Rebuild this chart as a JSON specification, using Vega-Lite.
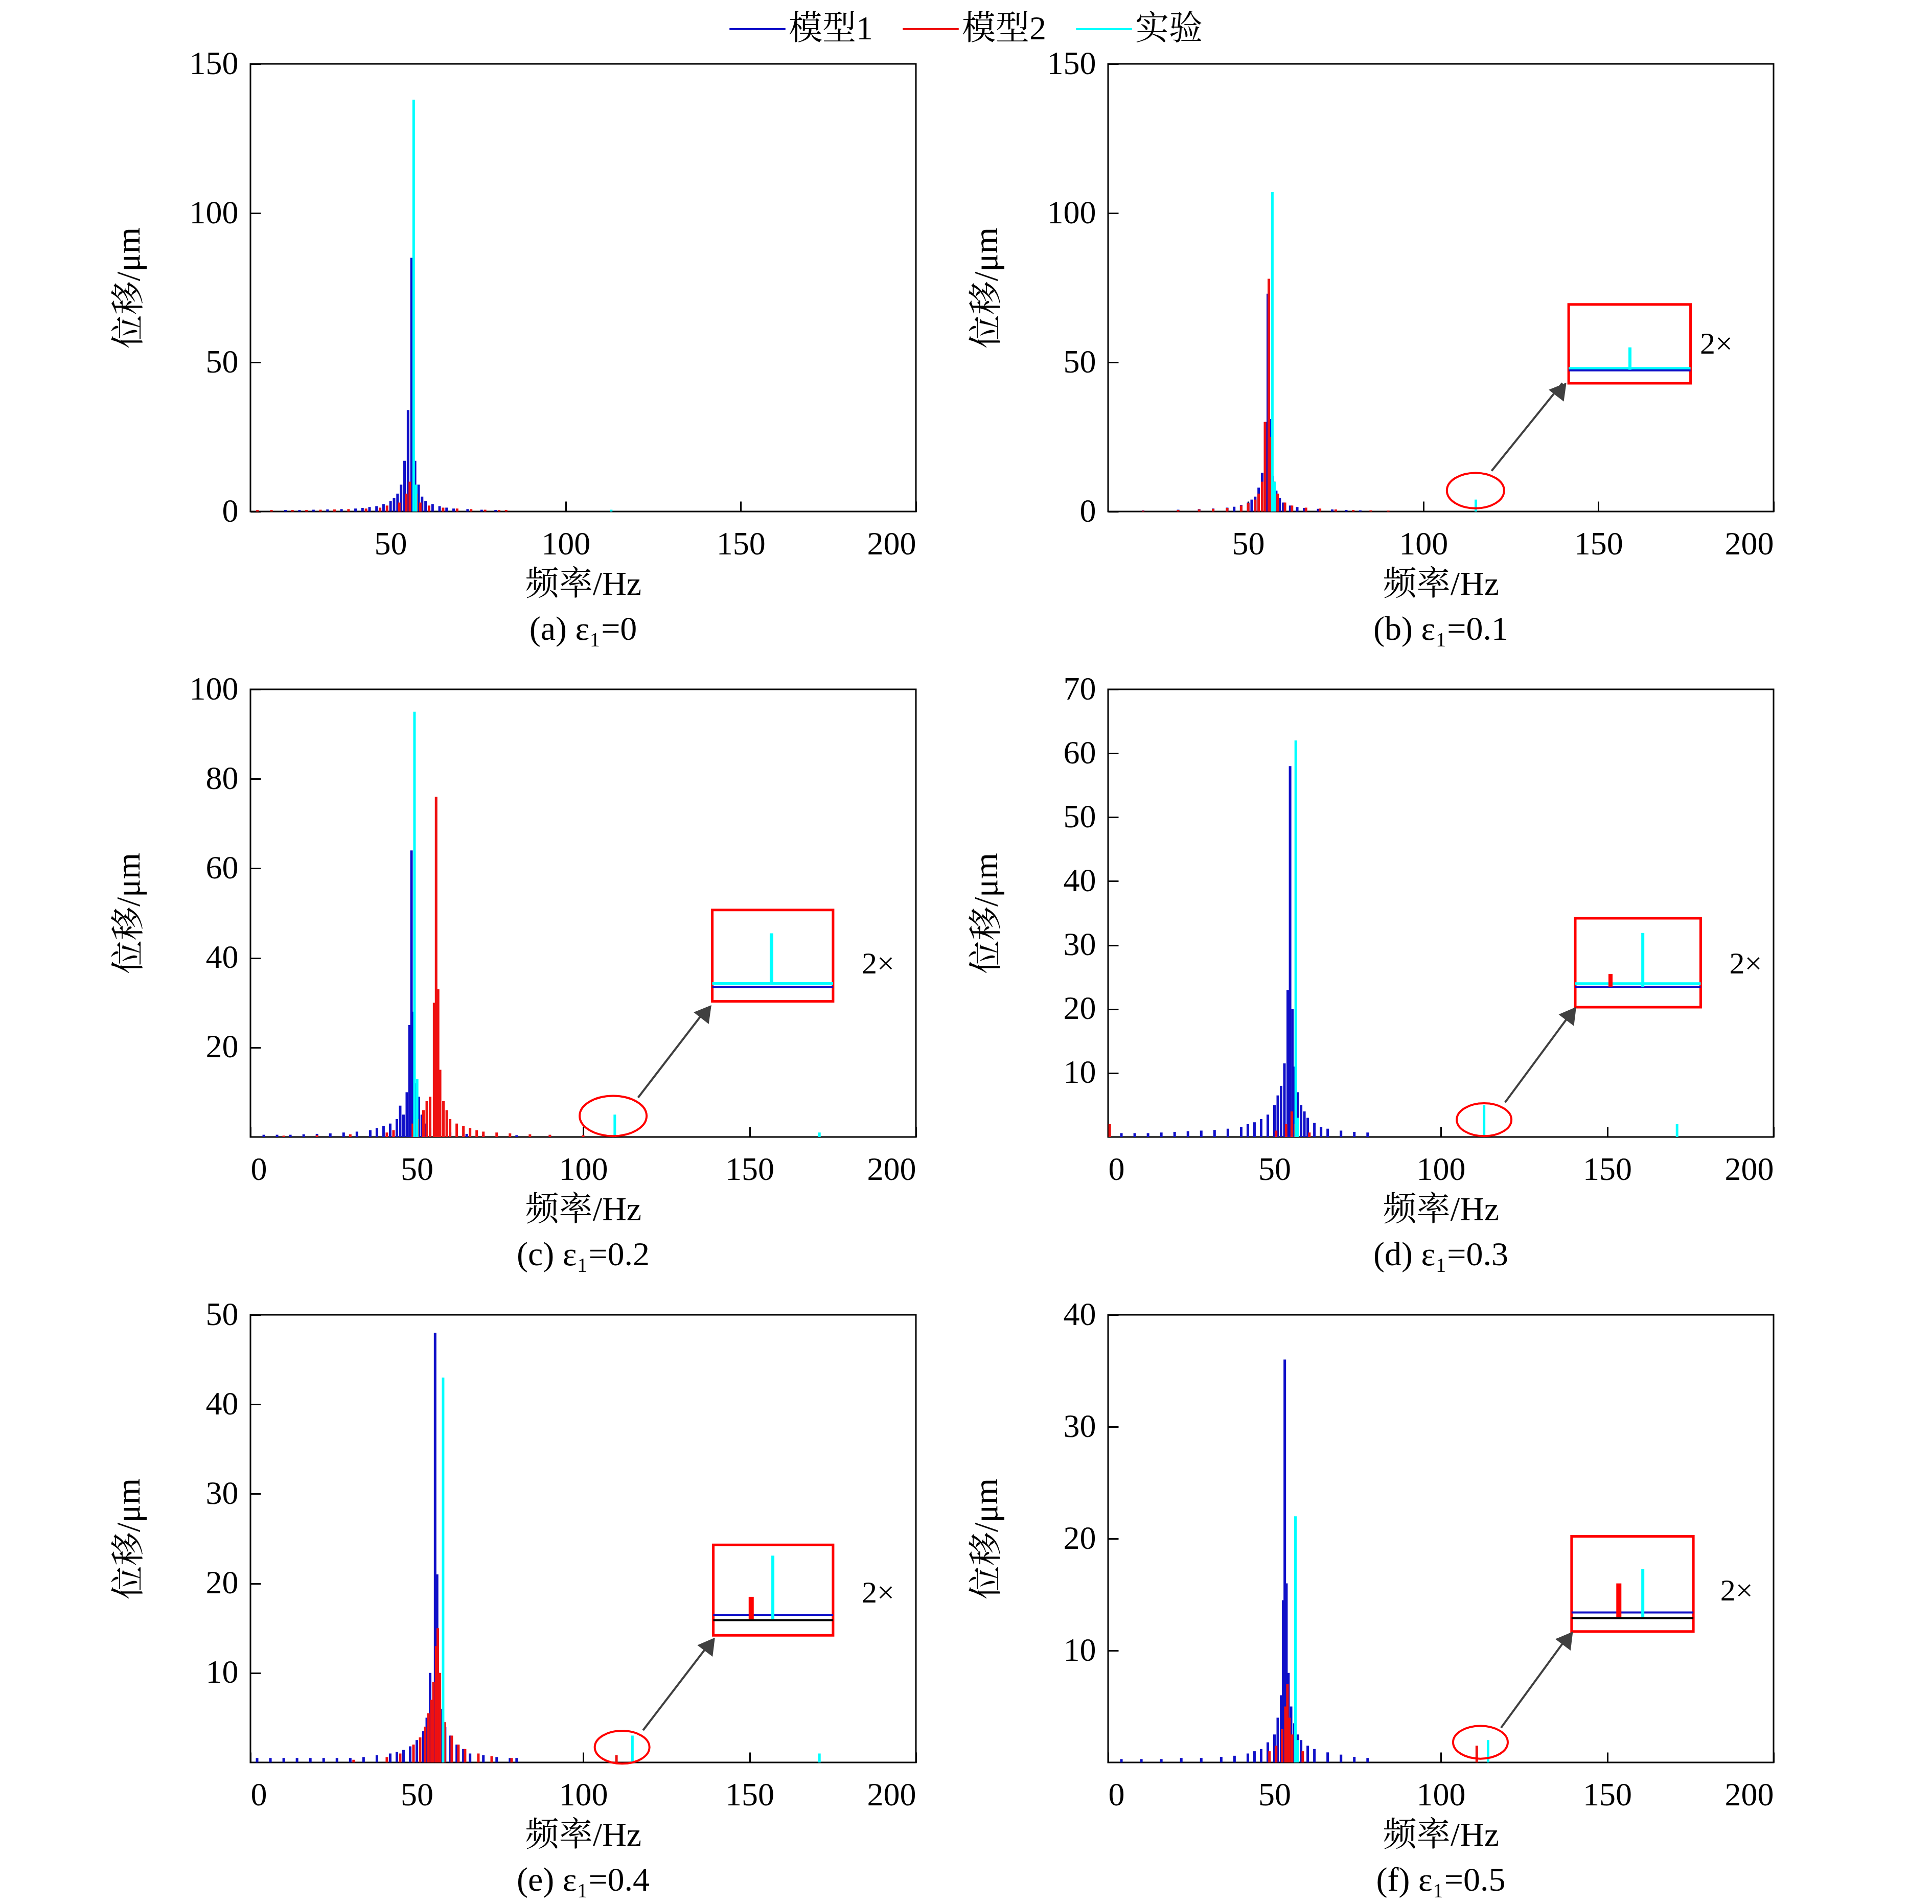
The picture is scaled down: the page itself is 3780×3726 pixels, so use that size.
{
"$schema":"https://vega.github.io/schema/vega-lite/v6.json",
"padding":{"left":217,"top":0,"right":60,"bottom":0},
"background":"white",
"config":{
 "view":{"stroke":"black","strokeWidth":3},
 "axis":{"grid":false,"domain":false,"tickColor":"black","tickSize":-20,"tickWidth":3,"labelFont":"Liberation Serif","labelFontSize":64,"labelColor":"black","titleFont":"Liberation Serif, Noto Serif CJK SC, Noto Sans CJK SC","titleFontSize":66,"titleFontWeight":"normal","titleColor":"black"},
 "axisX":{"titlePadding":14,"labelPadding":52},
 "axisY":{"titlePadding":24,"labelPadding":44,"minExtent":180,"maxExtent":180},
 "title":{"font":"Liberation Serif, Noto Serif CJK SC","fontSize":66,"fontWeight":"normal","color":"black","offset":24},
 "legend":{"orient":"none","legendX":935,"legendY":-125,"direction":"horizontal","symbolType":"stroke","symbolSize":12000,"symbolStrokeWidth":4,"labelFont":"Liberation Serif, Noto Serif CJK SC","labelFontSize":66,"labelLimit":0,"labelColor":"black","columnPadding":50}
},
"datasets":{
"bars":[
{"p":"a","s":"模型1","f":20,"v":0.5},{"p":"a","s":"模型1","f":24,"v":0.5},{"p":"a","s":"模型1","f":28,"v":0.6},{"p":"a","s":"模型1","f":32,"v":0.7},{"p":"a","s":"模型1","f":36,"v":0.8},{"p":"a","s":"模型1","f":40,"v":1},{"p":"a","s":"模型1","f":42,"v":1.2},{"p":"a","s":"模型1","f":44,"v":1.5},{"p":"a","s":"模型1","f":46,"v":1.8},{"p":"a","s":"模型1","f":48,"v":2.5},{"p":"a","s":"模型1","f":50,"v":3.5},{"p":"a","s":"模型1","f":51,"v":4.5},{"p":"a","s":"模型1","f":52,"v":6},{"p":"a","s":"模型1","f":53,"v":9},{"p":"a","s":"模型1","f":54,"v":17},{"p":"a","s":"模型1","f":55,"v":34},{"p":"a","s":"模型1","f":56,"v":85},{"p":"a","s":"模型1","f":57,"v":17},{"p":"a","s":"模型1","f":58,"v":9},{"p":"a","s":"模型1","f":59,"v":5},{"p":"a","s":"模型1","f":60,"v":3.5},{"p":"a","s":"模型1","f":62,"v":2.5},{"p":"a","s":"模型1","f":64,"v":1.8},{"p":"a","s":"模型1","f":66,"v":1.3},{"p":"a","s":"模型1","f":68,"v":1},{"p":"a","s":"模型1","f":72,"v":0.8},{"p":"a","s":"模型1","f":76,"v":0.6},{"p":"a","s":"模型1","f":80,"v":0.5},
{"p":"a","s":"模型2","f":12,"v":0.5},{"p":"a","s":"模型2","f":16,"v":0.5},{"p":"a","s":"模型2","f":22,"v":0.5},{"p":"a","s":"模型2","f":26,"v":0.5},{"p":"a","s":"模型2","f":30,"v":0.6},{"p":"a","s":"模型2","f":34,"v":0.7},{"p":"a","s":"模型2","f":38,"v":0.8},{"p":"a","s":"模型2","f":43,"v":1},{"p":"a","s":"模型2","f":47,"v":1.3},{"p":"a","s":"模型2","f":49,"v":2},{"p":"a","s":"模型2","f":52.5,"v":3},{"p":"a","s":"模型2","f":54.5,"v":6},{"p":"a","s":"模型2","f":55.5,"v":10},{"p":"a","s":"模型2","f":57.5,"v":6},{"p":"a","s":"模型2","f":58.5,"v":3},{"p":"a","s":"模型2","f":61,"v":2},{"p":"a","s":"模型2","f":65,"v":1.3},{"p":"a","s":"模型2","f":69,"v":1},{"p":"a","s":"模型2","f":73,"v":0.8},{"p":"a","s":"模型2","f":77,"v":0.6},{"p":"a","s":"模型2","f":81,"v":0.5},{"p":"a","s":"模型2","f":83,"v":0.5},
{"p":"a","s":"实验","f":56.6,"v":138},{"p":"a","s":"实验","f":57.3,"v":9},{"p":"a","s":"实验","f":113,"v":0.6},
{"p":"b","s":"模型1","f":20,"v":0.4},{"p":"b","s":"模型1","f":30,"v":0.6},{"p":"b","s":"模型1","f":36,"v":0.8},{"p":"b","s":"模型1","f":40,"v":1},{"p":"b","s":"模型1","f":44,"v":1.3},{"p":"b","s":"模型1","f":46,"v":1.6},{"p":"b","s":"模型1","f":48,"v":2.2},{"p":"b","s":"模型1","f":50,"v":3},{"p":"b","s":"模型1","f":51,"v":4},{"p":"b","s":"模型1","f":52,"v":5},{"p":"b","s":"模型1","f":53,"v":8},{"p":"b","s":"模型1","f":54,"v":13},{"p":"b","s":"模型1","f":55,"v":30},{"p":"b","s":"模型1","f":55.6,"v":73},{"p":"b","s":"模型1","f":56.2,"v":31},{"p":"b","s":"模型1","f":57,"v":12},{"p":"b","s":"模型1","f":58,"v":7},{"p":"b","s":"模型1","f":59,"v":4.5},{"p":"b","s":"模型1","f":60,"v":3},{"p":"b","s":"模型1","f":62,"v":2},{"p":"b","s":"模型1","f":64,"v":1.5},{"p":"b","s":"模型1","f":66,"v":1.2},{"p":"b","s":"模型1","f":70,"v":0.9},{"p":"b","s":"模型1","f":74,"v":0.7},{"p":"b","s":"模型1","f":78,"v":0.5},{"p":"b","s":"模型1","f":82,"v":0.4},
{"p":"b","s":"模型2","f":20,"v":0.3},{"p":"b","s":"模型2","f":30,"v":0.5},{"p":"b","s":"模型2","f":36,"v":0.7},{"p":"b","s":"模型2","f":40,"v":0.9},{"p":"b","s":"模型2","f":44,"v":1.2},{"p":"b","s":"模型2","f":48,"v":2},{"p":"b","s":"模型2","f":50,"v":2.8},{"p":"b","s":"模型2","f":52,"v":4},{"p":"b","s":"模型2","f":53,"v":6},{"p":"b","s":"模型2","f":54,"v":10},{"p":"b","s":"模型2","f":54.8,"v":30},{"p":"b","s":"模型2","f":55.9,"v":78},{"p":"b","s":"模型2","f":56.6,"v":25},{"p":"b","s":"模型2","f":57.4,"v":10},{"p":"b","s":"模型2","f":58.4,"v":6},{"p":"b","s":"模型2","f":60.5,"v":3},{"p":"b","s":"模型2","f":62.5,"v":2},{"p":"b","s":"模型2","f":66.5,"v":1.3},{"p":"b","s":"模型2","f":70.5,"v":1},{"p":"b","s":"模型2","f":75,"v":0.7},{"p":"b","s":"模型2","f":80,"v":0.5},{"p":"b","s":"模型2","f":85,"v":0.4},{"p":"b","s":"模型2","f":90,"v":0.3},
{"p":"b","s":"实验","f":56.9,"v":107},{"p":"b","s":"实验","f":57.5,"v":10},{"p":"b","s":"实验","f":115,"v":4},
{"p":"c","s":"模型1","f":4,"v":0.5},{"p":"c","s":"模型1","f":8,"v":0.5},{"p":"c","s":"模型1","f":12,"v":0.5},{"p":"c","s":"模型1","f":16,"v":0.6},{"p":"c","s":"模型1","f":20,"v":0.7},{"p":"c","s":"模型1","f":24,"v":0.8},{"p":"c","s":"模型1","f":28,"v":1},{"p":"c","s":"模型1","f":32,"v":1.2},{"p":"c","s":"模型1","f":36,"v":1.5},{"p":"c","s":"模型1","f":38,"v":2},{"p":"c","s":"模型1","f":40,"v":2.5},{"p":"c","s":"模型1","f":42,"v":3},{"p":"c","s":"模型1","f":44,"v":4},{"p":"c","s":"模型1","f":45,"v":7},{"p":"c","s":"模型1","f":46,"v":5},{"p":"c","s":"模型1","f":47,"v":10},{"p":"c","s":"模型1","f":47.8,"v":25},{"p":"c","s":"模型1","f":48.4,"v":64},{"p":"c","s":"模型1","f":49,"v":28},{"p":"c","s":"模型1","f":49.8,"v":12},{"p":"c","s":"模型1","f":50.6,"v":9},{"p":"c","s":"模型1","f":51.5,"v":5},{"p":"c","s":"模型1","f":52.5,"v":3},{"p":"c","s":"模型1","f":54,"v":2},{"p":"c","s":"模型1","f":56,"v":1.5},{"p":"c","s":"模型1","f":60,"v":1},{"p":"c","s":"模型1","f":65,"v":0.7},{"p":"c","s":"模型1","f":70,"v":0.5},{"p":"c","s":"模型1","f":80,"v":0.4},{"p":"c","s":"模型1","f":90,"v":0.3},
{"p":"c","s":"模型2","f":10,"v":0.3},{"p":"c","s":"模型2","f":20,"v":0.4},{"p":"c","s":"模型2","f":30,"v":0.6},{"p":"c","s":"模型2","f":41,"v":1},{"p":"c","s":"模型2","f":43,"v":1.5},{"p":"c","s":"模型2","f":48.8,"v":3},{"p":"c","s":"模型2","f":50.3,"v":4},{"p":"c","s":"模型2","f":52,"v":6},{"p":"c","s":"模型2","f":53,"v":8},{"p":"c","s":"模型2","f":54,"v":9},{"p":"c","s":"模型2","f":55.2,"v":30},{"p":"c","s":"模型2","f":55.8,"v":76},{"p":"c","s":"模型2","f":56.4,"v":33},{"p":"c","s":"模型2","f":57,"v":15},{"p":"c","s":"模型2","f":58,"v":8},{"p":"c","s":"模型2","f":59,"v":6},{"p":"c","s":"模型2","f":60,"v":4},{"p":"c","s":"模型2","f":62,"v":3},{"p":"c","s":"模型2","f":64,"v":2.5},{"p":"c","s":"模型2","f":66,"v":2},{"p":"c","s":"模型2","f":68,"v":1.5},{"p":"c","s":"模型2","f":70,"v":1.2},{"p":"c","s":"模型2","f":74,"v":1},{"p":"c","s":"模型2","f":78,"v":0.8},{"p":"c","s":"模型2","f":84,"v":0.6},{"p":"c","s":"模型2","f":90,"v":0.5},{"p":"c","s":"模型2","f":100,"v":0.4},
{"p":"c","s":"实验","f":49.3,"v":95},{"p":"c","s":"实验","f":50.1,"v":13},{"p":"c","s":"实验","f":109.5,"v":5},{"p":"c","s":"实验","f":171,"v":1},
{"p":"d","s":"模型1","f":4,"v":0.6},{"p":"d","s":"模型1","f":8,"v":0.6},{"p":"d","s":"模型1","f":12,"v":0.6},{"p":"d","s":"模型1","f":16,"v":0.7},{"p":"d","s":"模型1","f":20,"v":0.8},{"p":"d","s":"模型1","f":24,"v":0.9},{"p":"d","s":"模型1","f":28,"v":1},{"p":"d","s":"模型1","f":32,"v":1.1},{"p":"d","s":"模型1","f":36,"v":1.3},{"p":"d","s":"模型1","f":40,"v":1.6},{"p":"d","s":"模型1","f":42,"v":2},{"p":"d","s":"模型1","f":44,"v":2.3},{"p":"d","s":"模型1","f":46,"v":2.8},{"p":"d","s":"模型1","f":48,"v":3.5},{"p":"d","s":"模型1","f":50,"v":5},{"p":"d","s":"模型1","f":51,"v":6.5},{"p":"d","s":"模型1","f":52,"v":8},{"p":"d","s":"模型1","f":53,"v":11.5},{"p":"d","s":"模型1","f":54,"v":23},{"p":"d","s":"模型1","f":54.7,"v":58},{"p":"d","s":"模型1","f":55.4,"v":20},{"p":"d","s":"模型1","f":56,"v":11},{"p":"d","s":"模型1","f":57,"v":7},{"p":"d","s":"模型1","f":58,"v":5},{"p":"d","s":"模型1","f":59,"v":4},{"p":"d","s":"模型1","f":60,"v":3},{"p":"d","s":"模型1","f":62,"v":2.2},{"p":"d","s":"模型1","f":64,"v":1.6},{"p":"d","s":"模型1","f":66,"v":1.3},{"p":"d","s":"模型1","f":70,"v":1},{"p":"d","s":"模型1","f":74,"v":0.8},{"p":"d","s":"模型1","f":78,"v":0.7},
{"p":"d","s":"模型2","f":0.5,"v":2},{"p":"d","s":"模型2","f":50.5,"v":1},{"p":"d","s":"模型2","f":53.5,"v":2},{"p":"d","s":"模型2","f":55.2,"v":4},{"p":"d","s":"模型2","f":56.2,"v":2},{"p":"d","s":"模型2","f":60.5,"v":0.7},
{"p":"d","s":"实验","f":56.4,"v":62},{"p":"d","s":"实验","f":57,"v":3},{"p":"d","s":"实验","f":113,"v":5},{"p":"d","s":"实验","f":171,"v":2},
{"p":"e","s":"模型1","f":2,"v":0.5},{"p":"e","s":"模型1","f":6,"v":0.5},{"p":"e","s":"模型1","f":10,"v":0.5},{"p":"e","s":"模型1","f":14,"v":0.5},{"p":"e","s":"模型1","f":18,"v":0.5},{"p":"e","s":"模型1","f":22,"v":0.5},{"p":"e","s":"模型1","f":26,"v":0.5},{"p":"e","s":"模型1","f":30,"v":0.5},{"p":"e","s":"模型1","f":34,"v":0.6},{"p":"e","s":"模型1","f":38,"v":0.8},{"p":"e","s":"模型1","f":42,"v":1},{"p":"e","s":"模型1","f":44,"v":1.2},{"p":"e","s":"模型1","f":46,"v":1.4},{"p":"e","s":"模型1","f":48,"v":1.8},{"p":"e","s":"模型1","f":50,"v":2.5},{"p":"e","s":"模型1","f":52,"v":3.5},{"p":"e","s":"模型1","f":53,"v":5},{"p":"e","s":"模型1","f":54,"v":10},{"p":"e","s":"模型1","f":55.5,"v":48},{"p":"e","s":"模型1","f":56.1,"v":21},{"p":"e","s":"模型1","f":56.6,"v":10},{"p":"e","s":"模型1","f":57.5,"v":6},{"p":"e","s":"模型1","f":58.5,"v":4},{"p":"e","s":"模型1","f":60,"v":3},{"p":"e","s":"模型1","f":62,"v":2},{"p":"e","s":"模型1","f":64,"v":1.5},{"p":"e","s":"模型1","f":66,"v":1},{"p":"e","s":"模型1","f":70,"v":0.8},{"p":"e","s":"模型1","f":74,"v":0.6},{"p":"e","s":"模型1","f":78,"v":0.5},{"p":"e","s":"模型1","f":80,"v":0.5},
{"p":"e","s":"模型2","f":31,"v":0.3},{"p":"e","s":"模型2","f":41,"v":0.6},{"p":"e","s":"模型2","f":45,"v":1},{"p":"e","s":"模型2","f":49,"v":2},{"p":"e","s":"模型2","f":51,"v":2.8},{"p":"e","s":"模型2","f":52.5,"v":4},{"p":"e","s":"模型2","f":53.5,"v":5.5},{"p":"e","s":"模型2","f":54.4,"v":7},{"p":"e","s":"模型2","f":55,"v":9},{"p":"e","s":"模型2","f":55.8,"v":13},{"p":"e","s":"模型2","f":56.3,"v":15},{"p":"e","s":"模型2","f":56.9,"v":10},{"p":"e","s":"模型2","f":57.8,"v":6},{"p":"e","s":"模型2","f":58.4,"v":4.5},{"p":"e","s":"模型2","f":60.5,"v":3},{"p":"e","s":"模型2","f":62.5,"v":2},{"p":"e","s":"模型2","f":64.5,"v":1.5},{"p":"e","s":"模型2","f":68.5,"v":1},{"p":"e","s":"模型2","f":72.5,"v":0.7},{"p":"e","s":"模型2","f":78.5,"v":0.5},{"p":"e","s":"模型2","f":110,"v":0.8},
{"p":"e","s":"实验","f":57.9,"v":43},{"p":"e","s":"实验","f":114.8,"v":3},{"p":"e","s":"实验","f":171,"v":1},
{"p":"f","s":"模型1","f":4,"v":0.3},{"p":"f","s":"模型1","f":10,"v":0.3},{"p":"f","s":"模型1","f":16,"v":0.3},{"p":"f","s":"模型1","f":22,"v":0.4},{"p":"f","s":"模型1","f":28,"v":0.4},{"p":"f","s":"模型1","f":34,"v":0.5},{"p":"f","s":"模型1","f":38,"v":0.6},{"p":"f","s":"模型1","f":42,"v":0.8},{"p":"f","s":"模型1","f":44,"v":1},{"p":"f","s":"模型1","f":46,"v":1.2},{"p":"f","s":"模型1","f":48,"v":1.8},{"p":"f","s":"模型1","f":50,"v":2.5},{"p":"f","s":"模型1","f":51,"v":4},{"p":"f","s":"模型1","f":52,"v":6},{"p":"f","s":"模型1","f":52.6,"v":14.5},{"p":"f","s":"模型1","f":53.1,"v":36},{"p":"f","s":"模型1","f":53.6,"v":16},{"p":"f","s":"模型1","f":54.2,"v":8},{"p":"f","s":"模型1","f":55,"v":5},{"p":"f","s":"模型1","f":56,"v":3.5},{"p":"f","s":"模型1","f":57,"v":2.5},{"p":"f","s":"模型1","f":58,"v":2},{"p":"f","s":"模型1","f":60,"v":1.5},{"p":"f","s":"模型1","f":62,"v":1.2},{"p":"f","s":"模型1","f":66,"v":0.9},{"p":"f","s":"模型1","f":70,"v":0.7},{"p":"f","s":"模型1","f":74,"v":0.5},{"p":"f","s":"模型1","f":78,"v":0.4},
{"p":"f","s":"模型2","f":48.5,"v":1},{"p":"f","s":"模型2","f":50.5,"v":1.5},{"p":"f","s":"模型2","f":52.3,"v":3},{"p":"f","s":"模型2","f":53.3,"v":5},{"p":"f","s":"模型2","f":53.9,"v":7},{"p":"f","s":"模型2","f":54.5,"v":4},{"p":"f","s":"模型2","f":55.3,"v":2.5},{"p":"f","s":"模型2","f":56.5,"v":1.5},{"p":"f","s":"模型2","f":58.5,"v":1},{"p":"f","s":"模型2","f":110.8,"v":1.5},
{"p":"f","s":"实验","f":56.3,"v":22},{"p":"f","s":"实验","f":57,"v":2},{"p":"f","s":"实验","f":114.2,"v":2}
],
"ann":[
{"p":"b","k":"box","x":141.5,"x2":176.3,"y":43,"y2":69.4},
{"p":"b","k":"seg","x":141.5,"x2":176.3,"y":48,"y2":48,"c":"cyan","w":5},
{"p":"b","k":"seg","x":141.5,"x2":176.3,"y":47.3,"y2":47.3,"c":"#1010c8","w":4},
{"p":"b","k":"seg","x":159,"x2":159,"y":47.5,"y2":55,"c":"cyan","w":6},
{"p":"b","k":"seg","x":119.5,"x2":139.7,"y":13.6,"y2":43,"c":"#404040","w":4},
{"p":"b","k":"ell","x":114.9,"y":7,"z":12544},
{"p":"b","k":"head","x":139.4,"y":41},
{"p":"b","k":"txt","x":179,"y":56},
{"p":"c","k":"box","x":138.8,"x2":175.1,"y":30.3,"y2":50.7},
{"p":"c","k":"seg","x":138.8,"x2":175.1,"y":34.3,"y2":34.3,"c":"cyan","w":5},
{"p":"c","k":"seg","x":138.8,"x2":175.1,"y":33.5,"y2":33.5,"c":"#1010c8","w":4},
{"p":"c","k":"seg","x":156.6,"x2":156.6,"y":34,"y2":45.5,"c":"cyan","w":7},
{"p":"c","k":"seg","x":116.5,"x2":137.3,"y":8.8,"y2":28.9,"c":"#404040","w":4},
{"p":"c","k":"ell","x":109,"y":4.7,"z":17161},
{"p":"c","k":"head","x":137,"y":28},
{"p":"c","k":"txt","x":183.7,"y":38.6},
{"p":"d","k":"box","x":140.4,"x2":178.1,"y":20.3,"y2":34.2},
{"p":"d","k":"seg","x":140.4,"x2":178.1,"y":24,"y2":24,"c":"cyan","w":5},
{"p":"d","k":"seg","x":140.4,"x2":178.1,"y":23.5,"y2":23.5,"c":"#1010c8","w":4},
{"p":"d","k":"seg","x":151,"x2":151,"y":23.5,"y2":25.5,"c":"red","w":8},
{"p":"d","k":"seg","x":160.7,"x2":160.7,"y":23.5,"y2":31.9,"c":"cyan","w":6},
{"p":"d","k":"seg","x":119.3,"x2":139.6,"y":5.4,"y2":19.7,"c":"#404040","w":4},
{"p":"d","k":"ell","x":113,"y":2.7,"z":11449},
{"p":"d","k":"head","x":139.2,"y":19.3},
{"p":"d","k":"txt","x":186.7,"y":27},
{"p":"e","k":"box","x":139.1,"x2":175.1,"y":14.2,"y2":24.3},
{"p":"e","k":"seg","x":139.1,"x2":175.1,"y":15.9,"y2":15.9,"c":"black","w":4},
{"p":"e","k":"seg","x":139.1,"x2":175.1,"y":16.5,"y2":16.5,"c":"#1010c8","w":4},
{"p":"e","k":"seg","x":150.5,"x2":150.5,"y":16,"y2":18.5,"c":"red","w":10},
{"p":"e","k":"seg","x":157,"x2":157,"y":16,"y2":23.1,"c":"cyan","w":6},
{"p":"e","k":"seg","x":118,"x2":138.4,"y":3.6,"y2":13.5,"c":"#404040","w":4},
{"p":"e","k":"ell","x":111.7,"y":1.7,"z":11449},
{"p":"e","k":"head","x":138.1,"y":13.2},
{"p":"e","k":"txt","x":183.7,"y":18.9},
{"p":"f","k":"box","x":139.3,"x2":175.9,"y":11.7,"y2":20.2},
{"p":"f","k":"seg","x":139.3,"x2":175.9,"y":12.9,"y2":12.9,"c":"black","w":4},
{"p":"f","k":"seg","x":139.3,"x2":175.9,"y":13.4,"y2":13.4,"c":"#1010c8","w":4},
{"p":"f","k":"seg","x":153.5,"x2":153.5,"y":13,"y2":16,"c":"red","w":10},
{"p":"f","k":"seg","x":160.7,"x2":160.7,"y":13,"y2":17.3,"c":"cyan","w":6},
{"p":"f","k":"seg","x":118.1,"x2":138.5,"y":3.1,"y2":11.4,"c":"#404040","w":4},
{"p":"f","k":"ell","x":111.9,"y":1.8,"z":11449},
{"p":"f","k":"head","x":138.2,"y":11.1},
{"p":"f","k":"txt","x":184,"y":15.3}
]
},
"spacing":48,
"vconcat":[
{"spacing":100,"hconcat":[
{"width":1302,"height":876,"title":{"text":"(a) ε₁=0","orient":"bottom"},
"layer":[
{"data":{"name":"bars"},"transform":[{"filter":"datum.p=='a'"}],"mark":{"type":"rule","strokeWidth":5},
"encoding":{"x":{"field":"f","type":"quantitative","scale":{"domain":[10,200],"nice":false,"zero":false},"axis":{"values":[50,100,150,200],"title":"频率/Hz"}},
"y":{"field":"v","type":"quantitative","scale":{"domain":[0,150],"nice":false},"axis":{"values":[0,50,100,150],"title":"位移/μm"}},
"y2":{"datum":0},
"color":{"field":"s","type":"nominal","scale":{"domain":["模型1","模型2","实验"],"range":["#1010c8","#ee1111","#00ffff"]},"title":null}}}
]},
{"width":1302,"height":876,"title":{"text":"(b) ε₁=0.1","orient":"bottom"},
"layer":[
{"data":{"name":"bars"},"transform":[{"filter":"datum.p=='b'"}],"mark":{"type":"rule","strokeWidth":5},
"encoding":{"x":{"field":"f","type":"quantitative","scale":{"domain":[10,200],"nice":false,"zero":false},"axis":{"values":[50,100,150,200],"title":"频率/Hz"}},
"y":{"field":"v","type":"quantitative","scale":{"domain":[0,150],"nice":false},"axis":{"values":[0,50,100,150],"title":"位移/μm"}},
"y2":{"datum":0},
"color":{"field":"s","type":"nominal","title":null}}},
{"data":{"name":"ann"},"transform":[{"filter":"datum.p=='b' && datum.k=='box'"}],"mark":{"type":"rect","fill":"white","stroke":"red","strokeWidth":5},"encoding":{"x":{"field":"x","type":"quantitative"},"x2":{"field":"x2"},"y":{"field":"y","type":"quantitative"},"y2":{"field":"y2"}}},
{"data":{"name":"ann"},"transform":[{"filter":"datum.p=='b' && datum.k=='seg'"}],"mark":{"type":"rule"},"encoding":{"x":{"field":"x","type":"quantitative"},"x2":{"field":"x2"},"y":{"field":"y","type":"quantitative"},"y2":{"field":"y2"},"stroke":{"field":"c","type":"nominal","scale":null},"strokeWidth":{"field":"w","type":"quantitative","scale":null}}},
{"data":{"name":"ann"},"transform":[{"filter":"datum.p=='b' && datum.k=='ell'"}],"mark":{"type":"point","shape":"M-1,0A1,0.62,0,1,0,1,0A1,0.62,0,1,0,-1,0","filled":false,"stroke":"red","strokeWidth":4,"opacity":1},"encoding":{"x":{"field":"x","type":"quantitative"},"y":{"field":"y","type":"quantitative"},"size":{"field":"z","type":"quantitative","scale":null}}},
{"data":{"name":"ann"},"transform":[{"filter":"datum.p=='b' && datum.k=='head'"}],"mark":{"type":"point","shape":"triangle-up","filled":true,"color":"#404040","opacity":1,"size":1400,"angle":38},"encoding":{"x":{"field":"x","type":"quantitative"},"y":{"field":"y","type":"quantitative"}}},
{"data":{"name":"ann"},"transform":[{"filter":"datum.p=='b' && datum.k=='txt'"}],"mark":{"type":"text","text":"2×","align":"left","font":"Liberation Serif","fontSize":60,"color":"black"},"encoding":{"x":{"field":"x","type":"quantitative"},"y":{"field":"y","type":"quantitative"}}}
]}
]},
{"spacing":100,"hconcat":[
{"width":1302,"height":876,"title":{"text":"(c) ε₁=0.2","orient":"bottom"},
"layer":[
{"data":{"name":"bars"},"transform":[{"filter":"datum.p=='c'"}],"mark":{"type":"rule","strokeWidth":5},
"encoding":{"x":{"field":"f","type":"quantitative","scale":{"domain":[0,200],"nice":false},"axis":{"values":[0,50,100,150,200],"title":"频率/Hz"}},
"y":{"field":"v","type":"quantitative","scale":{"domain":[0,100],"nice":false},"axis":{"values":[20,40,60,80,100],"title":"位移/μm"}},
"y2":{"datum":0},
"color":{"field":"s","type":"nominal","title":null}}},
{"data":{"name":"ann"},"transform":[{"filter":"datum.p=='c' && datum.k=='box'"}],"mark":{"type":"rect","fill":"white","stroke":"red","strokeWidth":5},"encoding":{"x":{"field":"x","type":"quantitative"},"x2":{"field":"x2"},"y":{"field":"y","type":"quantitative"},"y2":{"field":"y2"}}},
{"data":{"name":"ann"},"transform":[{"filter":"datum.p=='c' && datum.k=='seg'"}],"mark":{"type":"rule"},"encoding":{"x":{"field":"x","type":"quantitative"},"x2":{"field":"x2"},"y":{"field":"y","type":"quantitative"},"y2":{"field":"y2"},"stroke":{"field":"c","type":"nominal","scale":null},"strokeWidth":{"field":"w","type":"quantitative","scale":null}}},
{"data":{"name":"ann"},"transform":[{"filter":"datum.p=='c' && datum.k=='ell'"}],"mark":{"type":"point","shape":"M-1,0A1,0.6,0,1,0,1,0A1,0.6,0,1,0,-1,0","filled":false,"stroke":"red","strokeWidth":4,"opacity":1},"encoding":{"x":{"field":"x","type":"quantitative"},"y":{"field":"y","type":"quantitative"},"size":{"field":"z","type":"quantitative","scale":null}}},
{"data":{"name":"ann"},"transform":[{"filter":"datum.p=='c' && datum.k=='head'"}],"mark":{"type":"point","shape":"triangle-up","filled":true,"color":"#404040","opacity":1,"size":1400,"angle":38},"encoding":{"x":{"field":"x","type":"quantitative"},"y":{"field":"y","type":"quantitative"}}},
{"data":{"name":"ann"},"transform":[{"filter":"datum.p=='c' && datum.k=='txt'"}],"mark":{"type":"text","text":"2×","align":"left","font":"Liberation Serif","fontSize":60,"color":"black"},"encoding":{"x":{"field":"x","type":"quantitative"},"y":{"field":"y","type":"quantitative"}}}
]},
{"width":1302,"height":876,"title":{"text":"(d) ε₁=0.3","orient":"bottom"},
"layer":[
{"data":{"name":"bars"},"transform":[{"filter":"datum.p=='d'"}],"mark":{"type":"rule","strokeWidth":5},
"encoding":{"x":{"field":"f","type":"quantitative","scale":{"domain":[0,200],"nice":false},"axis":{"values":[0,50,100,150,200],"title":"频率/Hz"}},
"y":{"field":"v","type":"quantitative","scale":{"domain":[0,70],"nice":false},"axis":{"values":[10,20,30,40,50,60,70],"title":"位移/μm"}},
"y2":{"datum":0},
"color":{"field":"s","type":"nominal","title":null}}},
{"data":{"name":"ann"},"transform":[{"filter":"datum.p=='d' && datum.k=='box'"}],"mark":{"type":"rect","fill":"white","stroke":"red","strokeWidth":5},"encoding":{"x":{"field":"x","type":"quantitative"},"x2":{"field":"x2"},"y":{"field":"y","type":"quantitative"},"y2":{"field":"y2"}}},
{"data":{"name":"ann"},"transform":[{"filter":"datum.p=='d' && datum.k=='seg'"}],"mark":{"type":"rule"},"encoding":{"x":{"field":"x","type":"quantitative"},"x2":{"field":"x2"},"y":{"field":"y","type":"quantitative"},"y2":{"field":"y2"},"stroke":{"field":"c","type":"nominal","scale":null},"strokeWidth":{"field":"w","type":"quantitative","scale":null}}},
{"data":{"name":"ann"},"transform":[{"filter":"datum.p=='d' && datum.k=='ell'"}],"mark":{"type":"point","shape":"M-1,0A1,0.6,0,1,0,1,0A1,0.6,0,1,0,-1,0","filled":false,"stroke":"red","strokeWidth":4,"opacity":1},"encoding":{"x":{"field":"x","type":"quantitative"},"y":{"field":"y","type":"quantitative"},"size":{"field":"z","type":"quantitative","scale":null}}},
{"data":{"name":"ann"},"transform":[{"filter":"datum.p=='d' && datum.k=='head'"}],"mark":{"type":"point","shape":"triangle-up","filled":true,"color":"#404040","opacity":1,"size":1400,"angle":37},"encoding":{"x":{"field":"x","type":"quantitative"},"y":{"field":"y","type":"quantitative"}}},
{"data":{"name":"ann"},"transform":[{"filter":"datum.p=='d' && datum.k=='txt'"}],"mark":{"type":"text","text":"2×","align":"left","font":"Liberation Serif","fontSize":60,"color":"black"},"encoding":{"x":{"field":"x","type":"quantitative"},"y":{"field":"y","type":"quantitative"}}}
]}
]},
{"spacing":100,"hconcat":[
{"width":1302,"height":876,"title":{"text":"(e) ε₁=0.4","orient":"bottom"},
"layer":[
{"data":{"name":"bars"},"transform":[{"filter":"datum.p=='e'"}],"mark":{"type":"rule","strokeWidth":5},
"encoding":{"x":{"field":"f","type":"quantitative","scale":{"domain":[0,200],"nice":false},"axis":{"values":[0,50,100,150,200],"title":"频率/Hz"}},
"y":{"field":"v","type":"quantitative","scale":{"domain":[0,50],"nice":false},"axis":{"values":[10,20,30,40,50],"title":"位移/μm"}},
"y2":{"datum":0},
"color":{"field":"s","type":"nominal","title":null}}},
{"data":{"name":"ann"},"transform":[{"filter":"datum.p=='e' && datum.k=='box'"}],"mark":{"type":"rect","fill":"white","stroke":"red","strokeWidth":5},"encoding":{"x":{"field":"x","type":"quantitative"},"x2":{"field":"x2"},"y":{"field":"y","type":"quantitative"},"y2":{"field":"y2"}}},
{"data":{"name":"ann"},"transform":[{"filter":"datum.p=='e' && datum.k=='seg'"}],"mark":{"type":"rule"},"encoding":{"x":{"field":"x","type":"quantitative"},"x2":{"field":"x2"},"y":{"field":"y","type":"quantitative"},"y2":{"field":"y2"},"stroke":{"field":"c","type":"nominal","scale":null},"strokeWidth":{"field":"w","type":"quantitative","scale":null}}},
{"data":{"name":"ann"},"transform":[{"filter":"datum.p=='e' && datum.k=='ell'"}],"mark":{"type":"point","shape":"M-1,0A1,0.6,0,1,0,1,0A1,0.6,0,1,0,-1,0","filled":false,"stroke":"red","strokeWidth":4,"opacity":1},"encoding":{"x":{"field":"x","type":"quantitative"},"y":{"field":"y","type":"quantitative"},"size":{"field":"z","type":"quantitative","scale":null}}},
{"data":{"name":"ann"},"transform":[{"filter":"datum.p=='e' && datum.k=='head'"}],"mark":{"type":"point","shape":"triangle-up","filled":true,"color":"#404040","opacity":1,"size":1400,"angle":37},"encoding":{"x":{"field":"x","type":"quantitative"},"y":{"field":"y","type":"quantitative"}}},
{"data":{"name":"ann"},"transform":[{"filter":"datum.p=='e' && datum.k=='txt'"}],"mark":{"type":"text","text":"2×","align":"left","font":"Liberation Serif","fontSize":60,"color":"black"},"encoding":{"x":{"field":"x","type":"quantitative"},"y":{"field":"y","type":"quantitative"}}}
]},
{"width":1302,"height":876,"title":{"text":"(f) ε₁=0.5","orient":"bottom"},
"layer":[
{"data":{"name":"bars"},"transform":[{"filter":"datum.p=='f'"}],"mark":{"type":"rule","strokeWidth":5},
"encoding":{"x":{"field":"f","type":"quantitative","scale":{"domain":[0,200],"nice":false},"axis":{"values":[0,50,100,150,200],"title":"频率/Hz"}},
"y":{"field":"v","type":"quantitative","scale":{"domain":[0,40],"nice":false},"axis":{"values":[10,20,30,40],"title":"位移/μm"}},
"y2":{"datum":0},
"color":{"field":"s","type":"nominal","title":null}}},
{"data":{"name":"ann"},"transform":[{"filter":"datum.p=='f' && datum.k=='box'"}],"mark":{"type":"rect","fill":"white","stroke":"red","strokeWidth":5},"encoding":{"x":{"field":"x","type":"quantitative"},"x2":{"field":"x2"},"y":{"field":"y","type":"quantitative"},"y2":{"field":"y2"}}},
{"data":{"name":"ann"},"transform":[{"filter":"datum.p=='f' && datum.k=='seg'"}],"mark":{"type":"rule"},"encoding":{"x":{"field":"x","type":"quantitative"},"x2":{"field":"x2"},"y":{"field":"y","type":"quantitative"},"y2":{"field":"y2"},"stroke":{"field":"c","type":"nominal","scale":null},"strokeWidth":{"field":"w","type":"quantitative","scale":null}}},
{"data":{"name":"ann"},"transform":[{"filter":"datum.p=='f' && datum.k=='ell'"}],"mark":{"type":"point","shape":"M-1,0A1,0.6,0,1,0,1,0A1,0.6,0,1,0,-1,0","filled":false,"stroke":"red","strokeWidth":4,"opacity":1},"encoding":{"x":{"field":"x","type":"quantitative"},"y":{"field":"y","type":"quantitative"},"size":{"field":"z","type":"quantitative","scale":null}}},
{"data":{"name":"ann"},"transform":[{"filter":"datum.p=='f' && datum.k=='head'"}],"mark":{"type":"point","shape":"triangle-up","filled":true,"color":"#404040","opacity":1,"size":1400,"angle":37},"encoding":{"x":{"field":"x","type":"quantitative"},"y":{"field":"y","type":"quantitative"}}},
{"data":{"name":"ann"},"transform":[{"filter":"datum.p=='f' && datum.k=='txt'"}],"mark":{"type":"text","text":"2×","align":"left","font":"Liberation Serif","fontSize":60,"color":"black"},"encoding":{"x":{"field":"x","type":"quantitative"},"y":{"field":"y","type":"quantitative"}}}
]}
]}
]
}
